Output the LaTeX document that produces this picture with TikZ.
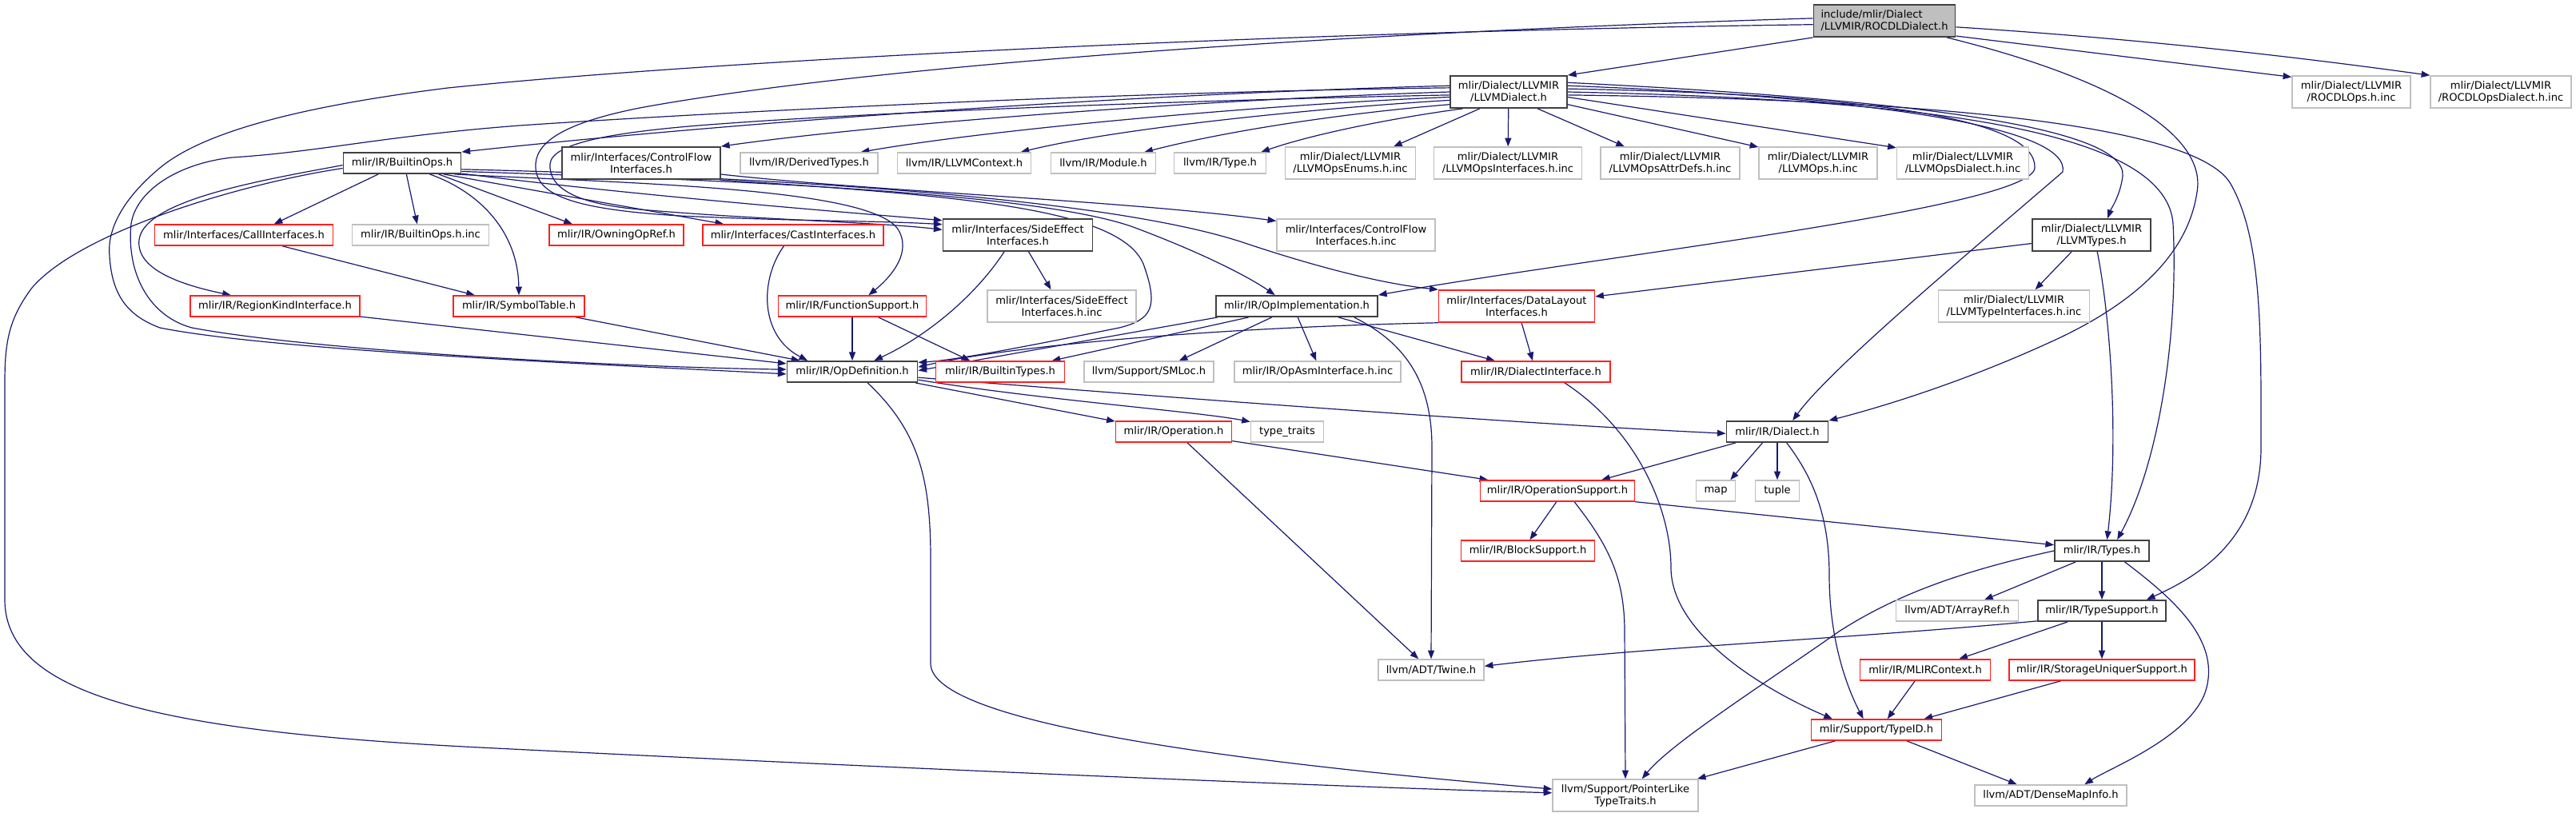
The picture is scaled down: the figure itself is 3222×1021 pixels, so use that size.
\documentclass[tikz,border=0pt]{standalone}
\usepackage{fontspec}
\setmainfont{DejaVu Sans}
\usetikzlibrary{arrows.meta,backgrounds}
\definecolor{edgecol}{HTML}{191970}
\definecolor{redc}{HTML}{FF2020}
\definecolor{grayc}{HTML}{BFBFBF}
\definecolor{blkc}{HTML}{404040}
\begin{document}
\begin{tikzpicture}[x=0.75pt,y=-0.75pt,
  nd/.style={draw, line width=1.1pt, fill=white, inner sep=0pt, minimum height=19.5pt,
    font=\fontsize{9.8}{11.2}\selectfont, align=center},
  bnode/.style={nd, draw=blkc, line width=1.4pt},
  rnode/.style={nd, draw=redc},
  gnode/.style={nd, draw=grayc},
  two/.style={minimum height=30pt},
  W/.style={minimum width=#1*0.75pt},
  conn/.style={draw=edgecol, line width=0.9pt, -{Triangle[length=8pt,width=6pt]}}]
\useasboundingbox (0,0) rectangle (3222,1021);
% row 0
\node[bnode, W=177, two, fill=grayc, align=left] (rocdl) at (2357,26) {include/mlir/Dialect\\/LLVMIR/ROCDLDialect.h};
% row 1
\node[bnode, W=146, two] (llvmd) at (1887,115) {mlir/Dialect/LLVMIR\\/LLVMDialect.h};
\node[gnode, W=148, two] (rops) at (2941,115) {mlir/Dialect/LLVMIR\\/ROCDLOps.h.inc};
\node[gnode, W=176, two] (ropsd) at (3128,115) {mlir/Dialect/LLVMIR\\/ROCDLOpsDialect.h.inc};
% row 2
\node[bnode, W=147] (bops) at (503,204) {mlir/IR/BuiltinOps.h};
\node[bnode, W=198, two] (cfi) at (802,204) {mlir/Interfaces/ControlFlow\\Interfaces.h};
\node[gnode, W=172] (dtypes) at (1012,204) {llvm/IR/DerivedTypes.h};
\node[gnode, W=167] (llctx) at (1206,204) {llvm/IR/LLVMContext.h};
\node[gnode, W=131] (module) at (1380,204) {llvm/IR/Module.h};
\node[gnode, W=115] (type) at (1526,204) {llvm/IR/Type.h};
\node[gnode, W=163, two] (enums) at (1689,204) {mlir/Dialect/LLVMIR\\/LLVMOpsEnums.h.inc};
\node[gnode, W=185, two] (opsif) at (1886,204) {mlir/Dialect/LLVMIR\\/LLVMOpsInterfaces.h.inc};
\node[gnode, W=174, two] (attrdefs) at (2089,204) {mlir/Dialect/LLVMIR\\/LLVMOpsAttrDefs.h.inc};
\node[gnode, W=148, two] (llops) at (2274,204) {mlir/Dialect/LLVMIR\\/LLVMOps.h.inc};
\node[gnode, W=165, two] (opsdial) at (2455,204) {mlir/Dialect/LLVMIR\\/LLVMOpsDialect.h.inc};
% row 3
\node[rnode, W=223] (calli) at (305,294) {mlir/Interfaces/CallInterfaces.h};
\node[gnode, W=171] (bopsinc) at (526,294) {mlir/IR/BuiltinOps.h.inc};
\node[rnode, W=168] (owning) at (771,294) {mlir/IR/OwningOpRef.h};
\node[rnode, W=226] (cast) at (992,294) {mlir/Interfaces/CastInterfaces.h};
\node[bnode, W=187, two] (sidefx) at (1273,294) {mlir/Interfaces/SideEffect\\Interfaces.h};
\node[gnode, W=198, two] (cfinc) at (1696,294) {mlir/Interfaces/ControlFlow\\Interfaces.h.inc};
\node[bnode, W=148, two] (llvmtypes) at (2616,294) {mlir/Dialect/LLVMIR\\/LLVMTypes.h};
% row 4
\node[rnode, W=212] (region) at (344,383) {mlir/IR/RegionKindInterface.h};
\node[rnode, W=164] (symtab) at (649,383) {mlir/IR/SymbolTable.h};
\node[rnode, W=185] (funcsup) at (1066,383) {mlir/IR/FunctionSupport.h};
\node[gnode, W=186, two] (sidefxinc) at (1328,383) {mlir/Interfaces/SideEffect\\Interfaces.h.inc};
\node[bnode, W=202] (opimpl) at (1622,383) {mlir/IR/OpImplementation.h};
\node[rnode, W=195, two] (datalayout) at (1897,383) {mlir/Interfaces/DataLayout\\Interfaces.h};
\node[gnode, W=189, two] (lltypeif) at (2519,383) {mlir/Dialect/LLVMIR\\/LLVMTypeInterfaces.h.inc};
% row 5
\node[bnode, W=163] (opdef) at (1066,465) {mlir/IR/OpDefinition.h};
\node[rnode, W=161] (btypes) at (1251,465) {mlir/IR/BuiltinTypes.h};
\node[gnode, W=162] (smloc) at (1437,465) {llvm/Support/SMLoc.h};
\node[gnode, W=208] (opasm) at (1648,465) {mlir/IR/OpAsmInterface.h.inc};
\node[rnode, W=186] (dialif) at (1921,465) {mlir/IR/DialectInterface.h};
% row 6
\node[rnode, W=145] (operation) at (1468,540) {mlir/IR/Operation.h};
\node[gnode, W=91] (typetraits) at (1610,540) {type\_traits};
\node[bnode, W=127] (dialect) at (2223,540) {mlir/IR/Dialect.h};
% row 7
\node[rnode, W=193] (opsupport) at (1948,614) {mlir/IR/OperationSupport.h};
\node[gnode, W=49] (map) at (2146,614) {map};
\node[gnode, W=55] (tuple) at (2223,614) {tuple};
% row 8
\node[rnode, W=167] (blocksup) at (1911,689) {mlir/IR/BlockSupport.h};
\node[bnode, W=118] (types) at (2629,689) {mlir/IR/Types.h};
% row 9
\node[gnode, W=153] (arrayref) at (2448,764) {llvm/ADT/ArrayRef.h};
\node[bnode, W=160] (typesup) at (2629,764) {mlir/IR/TypeSupport.h};
% row 10
\node[gnode, W=132] (twine) at (1790,838) {llvm/ADT/Twine.h};
\node[rnode, W=163] (mlirctx) at (2408,838) {mlir/IR/MLIRContext.h};
\node[rnode, W=232] (storage) at (2629,838) {mlir/IR/StorageUniquerSupport.h};
% row 11
\node[rnode, W=163] (typeid) at (2347,913) {mlir/Support/TypeID.h};
% row 12
\node[gnode, W=182, two] (ptrlike) at (2033,995) {llvm/Support/PointerLike\\TypeTraits.h};
\node[gnode, W=190] (densemap) at (2565,995) {llvm/ADT/DenseMapInfo.h};

\begin{scope}[on background layer]
\fill[white] (0,0) rectangle (3222,1021);
% ROCDLDialect.h
\draw[conn] (rocdl.south west) -- (llvmd.north east);
\draw[conn] (rocdl.-12) -- (rops.166);
\draw[conn] (rocdl.-5) .. controls (2700,50) and (2900,75) .. (ropsd.north west);
\draw[conn] (rocdl.183) .. controls (1600,40) and (900,75) .. (560,110) .. controls (400,130) and (260,160) .. (200,210) .. controls (140,260) and (135,300) .. (137,320) .. controls (140,370) and (160,395) .. (200,410) .. controls (350,440) and (800,458) .. (opdef.182);
\draw[conn] (rocdl.178) .. controls (1700,40) and (1100,80) .. (800,135) .. controls (700,155) and (668,180) .. (670,210) .. controls (672,245) and (720,262) .. (850,270) .. controls (1000,277) and (1100,276) .. (sidefx.172);
\draw[conn] (rocdl.-15) .. controls (2650,100) and (2760,170) .. (2748,240) .. controls (2735,330) and (2650,390) .. (2560,430) .. controls (2450,480) and (2350,510) .. (dialect.north east);
% LLVMDialect.h
\draw[conn] (llvmd.174) .. controls (1400,118) and (900,155) .. (bops.north east);
\draw[conn] (llvmd.180) .. controls (1500,125) and (1100,155) .. (cfi.north east);
\draw[conn] (llvmd.185) .. controls (1600,130) and (1250,160) .. (dtypes.12);
\draw[conn] (llvmd.188) .. controls (1650,135) and (1400,160) .. (llctx.11);
\draw[conn] (llvmd.192) .. controls (1700,140) and (1550,160) .. (module.15);
\draw[conn] (llvmd.200) .. controls (1760,145) and (1650,165) .. (type.15);
\draw[conn] (llvmd.210) -- (enums.21);
\draw[conn] (llvmd) -- (opsif);
\draw[conn] (llvmd.-30) -- (attrdefs.160);
\draw[conn] (llvmd.-12) -- (llops.165);
\draw[conn] (llvmd.-5) -- (opsdial.167);
\draw[conn] (llvmd.3) .. controls (2350,118) and (2548,150) .. (2545,210) .. controls (2542,260) and (2000,320) .. (opimpl.north east);
\draw[conn] (llvmd.6) .. controls (2350,122) and (2590,160) .. (2580,215) .. controls (2470,310) and (2290,460) .. (dialect.36);
\draw[conn] (llvmd.9) .. controls (2400,125) and (2660,160) .. (2655,220) .. controls (2652,245) and (2640,262) .. (llvmtypes.46);
\draw[conn] (llvmd.0) .. controls (2450,125) and (2710,170) .. (2718,280) .. controls (2725,420) and (2700,580) .. (types.36);
\draw[conn] (llvmd.-3) .. controls (2450,125) and (2750,160) .. (2790,230) .. controls (2830,300) and (2828,420) .. (2828,560) .. controls (2828,680) and (2740,725) .. (typesup.14);
\draw[conn] (llvmd.176) .. controls (1400,115) and (900,140) .. (650,157) .. controls (480,170) and (400,190) .. (290,197) .. controls (220,205) and (170,240) .. (164,280) .. controls (158,340) and (185,395) .. (240,410) .. controls (400,440) and (800,460) .. (opdef.178);
\draw[conn] (llvmd.183) .. controls (1500,125) and (1100,140) .. (900,155) .. controls (760,165) and (690,180) .. (688,205) .. controls (686,235) and (720,255) .. (800,262) .. controls (950,275) and (1100,278) .. (sidefx.176);
% BuiltinOps.h
\draw[conn] (bops.205) -- (calli.20);
\draw[conn] (bops.-69) -- (bopsinc.107);
\draw[conn] (bops.-17) -- (owning.166);
\draw[conn] (bops.-15) -- (cast.171);
\draw[conn] (bops.-22) .. controls (600,240) and (648,290) .. (symtab.north);
\draw[conn] (bops.182) .. controls (330,225) and (180,250) .. (174,300) .. controls (170,335) and (220,355) .. (region.166);
\draw[conn] (bops.185) .. controls (300,230) and (100,290) .. (40,360) .. controls (10,400) and (6,430) .. (6,480) -- (6,750) .. controls (6,870) and (200,915) .. (600,935) .. controls (1200,965) and (1700,985) .. (ptrlike.178);
\draw[conn] (bops.-12) .. controls (800,230) and (1100,235) .. (1125,290) .. controls (1140,320) and (1110,350) .. (funcsup.34);
\draw[conn] (bops.-10) .. controls (800,245) and (1050,265) .. (sidefx.169);
\draw[conn] (bops.-8) .. controls (900,225) and (1300,240) .. (1420,285) .. controls (1500,315) and (1560,345) .. (opimpl.153);
\draw[conn] (bops.-6) .. controls (1000,222) and (1400,250) .. (1560,305) .. controls (1650,335) and (1730,355) .. (datalayout.north west);
% row 3/4 sources
\draw[conn] (calli.-16) -- (symtab.166);
\draw[conn] (region.-7) -- (opdef.173);
\draw[conn] (symtab.-11) -- (opdef.168);
\draw[conn] (cast.-130) .. controls (950,350) and (950,420) .. (opdef.166);
\draw[conn] (funcsup) -- (opdef);
\draw[conn] (funcsup.-23) -- (btypes.160);
\draw[conn] (sidefx.-129) .. controls (1220,370) and (1160,420) .. (opdef.27);
\draw[conn] (sidefx.-57) -- (sidefxinc.123);
\draw[conn] (cfi.-8) .. controls (1100,240) and (1400,250) .. (cfinc.170);
\draw[conn] (cfi.-12) .. controls (1200,245) and (1400,260) .. (1430,330) .. controls (1450,385) and (1440,400) .. (1400,410) .. controls (1300,430) and (1200,450) .. (opdef.8);
\draw[conn] (datalayout.192) .. controls (1500,410) and (1250,435) .. (opdef.4);
\draw[conn] (datalayout) -- (dialif);
\draw[conn] (opimpl.188) -- (opdef.1);
\draw[conn] (opimpl.-167) -- (btypes.12);
\draw[conn] (opimpl.-156) -- (smloc.20);
\draw[conn] (opimpl.-85) -- (opasm.97);
\draw[conn] (opimpl.-15) -- (dialif.165);
\draw[conn] (opimpl.-11) .. controls (1760,430) and (1791,480) .. (1791,560) -- (twine.north);
\draw[conn] (llvmtypes.188) -- (datalayout.7);
\draw[conn] (llvmtypes.-140) -- (lltypeif.38);
\draw[conn] (llvmtypes.-71) .. controls (2640,400) and (2650,550) .. (types.65);
% OpDefinition.h
\draw[conn] (opdef.-10) -- (operation.170);
\draw[conn] (opdef.-7) .. controls (1300,500) and (1500,515) .. (typetraits.165);
\draw[conn] (opdef.-5) .. controls (1500,500) and (1900,530) .. (dialect.182);
\draw[conn] (opdef.-36) .. controls (1150,540) and (1164,600) .. (1164,700) -- (1164,830) .. controls (1164,900) and (1500,950) .. (ptrlike.175);
% lower part
\draw[conn] (operation.-9) -- (opsupport.171);
\draw[conn] (operation.-39) -- (twine.139);
\draw[conn] (dialect.-165) -- (opsupport.14);
\draw[conn] (dialect.-143) -- (map.37);
\draw[conn] (dialect) -- (tuple);
\draw[conn] (dialect.-50) .. controls (2270,600) and (2288,650) .. (2288,720) .. controls (2288,800) and (2310,860) .. (typeid.140);
\draw[conn] (dialif.-21) .. controls (2050,540) and (2090,640) .. (2090,710) .. controls (2090,790) and (2200,860) .. (typeid.166);
\draw[conn] (opsupport.-95) -- (blocksup.80);
\draw[conn] (opsupport.-33) .. controls (2010,680) and (2032,720) .. (2032,790) -- (ptrlike.north);
\draw[conn] (opsupport.-8) -- (types.173);
\draw[conn] (types) -- (typesup);
\draw[conn] (types.-157) -- (arrayref.22);
\draw[conn] (types.-26) .. controls (2720,750) and (2775,800) .. (2760,860) .. controls (2745,920) and (2640,960) .. (densemap.18);
\draw[conn] (types.180) .. controls (2450,715) and (2370,745) .. (2300,790) .. controls (2200,860) and (2090,930) .. (ptrlike.45);
\draw[conn] (typesup.189) .. controls (2300,800) and (2050,810) .. (twine.4);
\draw[conn] (typesup.-162) -- (mlirctx.18);
\draw[conn] (typesup) -- (storage);
\draw[conn] (mlirctx.-133) -- (typeid.45);
\draw[conn] (storage.-165) -- (typeid.13);
\draw[conn] (typeid.-165) -- (ptrlike.13);
\draw[conn] (typeid.-20) -- (densemap.162);
\end{scope}
\end{tikzpicture}
\end{document}
